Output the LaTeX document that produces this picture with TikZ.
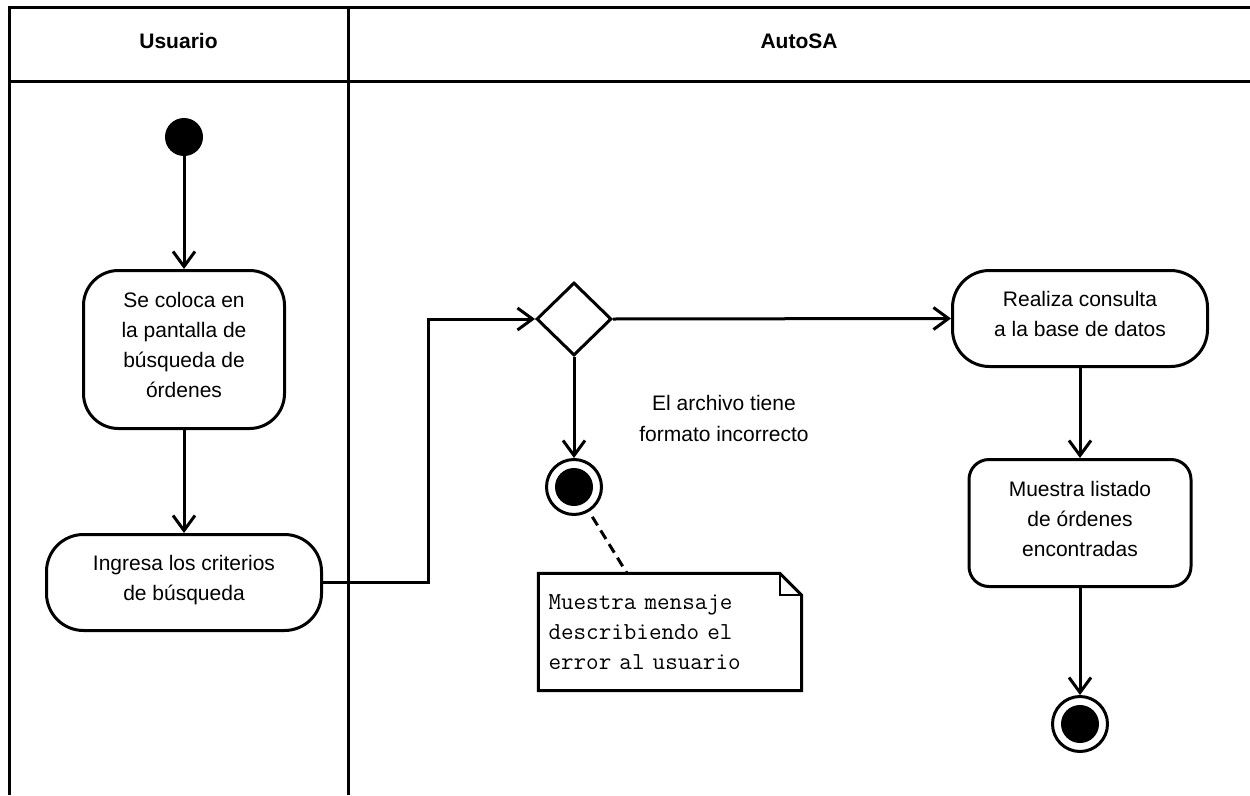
\documentclass[tikz,border=0pt]{standalone}
\usepackage{fontspec}
\setmainfont{Liberation Sans}
\usetikzlibrary{arrows.meta,shapes.geometric}

\begin{document}
\begin{tikzpicture}[x=1pt,y=-1pt,
  lane/.style={line width=3pt},
  lanehead/.style={font=\fontsize{21}{25}\selectfont\bfseries},
  activity/.style={draw, line width=3pt, inner sep=0pt},
  acttext/.style={align=center, inner sep=0pt, yshift=4.5pt,
    font=\fontsize{21}{30}\selectfont},
  startnode/.style={circle, fill=black, minimum size=38pt, inner sep=0pt},
  endnode/.style={circle, draw, line width=3pt, minimum size=55pt, inner sep=0pt,
    path picture={\fill[black] (path picture bounding box.center) circle (19pt);}},
  decision/.style={diamond, draw, line width=3pt, minimum width=75pt,
    minimum height=73pt, inner sep=0pt},
  flow/.style={line width=3pt, -{Straight Barb[length=15pt,width=22pt]}},
  guardtext/.style={align=center, font=\fontsize{21}{31}\selectfont},
  notebox/.style={text width=243pt, inner xsep=10pt, minimum height=117pt,
    align=left, font=\ttfamily\fontsize{24.4}{30}\selectfont},
  noteline/.style={line width=3pt, dash pattern=on 10pt off 6pt}
]
\useasboundingbox (0,0) rectangle (1250,795);

% swimlane frame
\draw[lane] (9.5,795) -- (9.5,7) -- (1250,7);
\draw[lane] (9.5,81.5) -- (1250,81.5);
\draw[lane] (348,7) -- (348,795);
\node[lanehead] (hUser) at (178.5,41) {Usuario};
\node[lanehead] (hSys) at (799,41) {AutoSA};

% actions
\node[startnode] (start) at (184,137) {};
\node[activity, minimum width=201pt, minimum height=158pt, rounded corners=35pt,
  label={[acttext]center:{Se coloca en\\la pantalla de\\búsqueda de\\órdenes}}]
  (a1) at (184,349.5) {};
\node[activity, minimum width=275pt, minimum height=96pt, rounded corners=37pt,
  label={[acttext, yshift=-2pt]center:{Ingresa los criterios\\de búsqueda}}]
  (a2) at (184,582.5) {};
\node[decision] (dec) at (574,319) {};
\node[activity, minimum width=255pt, minimum height=96pt, rounded corners=37pt,
  label={[acttext]center:{Realiza consulta\\a la base de datos}}]
  (a3) at (1080,318.5) {};
\node[activity, minimum width=222pt, minimum height=127pt, rounded corners=20pt,
  label={[acttext]center:{Muestra listado\\de órdenes\\encontradas}}]
  (a4) at (1080,523) {};
\node[endnode] (end1) at (574,487) {};
\node[endnode] (end2) at (1080,724) {};
\node[guardtext] (guard) at (724,418.5) {El archivo tiene\\formato incorrecto};

% note attached to the error end
\node[notebox] (note) at (670,632)
  {Muestra mensaje\\describiendo el\\error al usuario};
\draw[line width=3pt, line join=miter]
  (note.north west) -- ([xshift=-22pt]note.north east)
  -- ([yshift=-22pt]note.north east) -- (note.south east)
  -- (note.south west) -- cycle;
\draw[line width=2pt]
  ([xshift=-22pt]note.north east) |- ([yshift=-22pt]note.north east);
\coordinate (dashx) at (627,0);
\draw[noteline, shorten <=6pt] (end1) -- (note.north -| dashx);

% control flow
\coordinate (bendx) at (428,0);
\draw[flow] (start) -- (a1);
\draw[flow] (a1) -- (a2);
\draw[flow] (a2.east) -- (a2.east -| bendx) |- (dec.west);
\draw[flow] (dec.east) -- (a3.west);
\draw[flow] (dec.south) -- (end1);
\draw[flow] (a3) -- (a4);
\draw[flow] (a4) -- (end2);
\end{tikzpicture}
\end{document}
